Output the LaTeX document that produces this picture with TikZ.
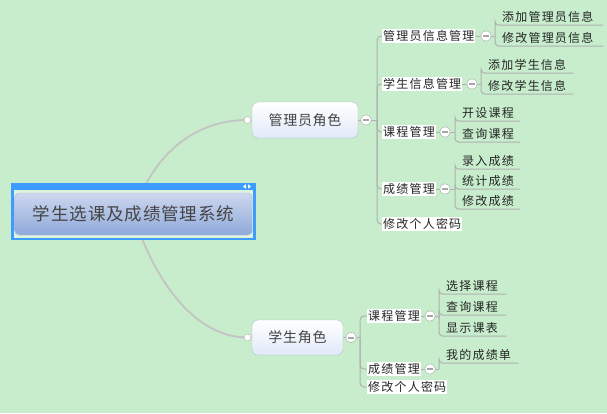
\documentclass[tikz,border=0pt]{standalone}
\usepackage{fontspec}
\newfontfamily\cjk[LetterSpace=10]{Noto Sans CJK SC}
\newfontfamily\cjkb[LetterSpace=5]{Noto Sans CJK SC}
\usetikzlibrary{positioning}
\definecolor{bgc}{HTML}{C7EDCC}
\definecolor{selblue}{HTML}{3D9DFF}
\definecolor{selgap}{HTML}{DDF3DF}
\definecolor{roottop}{HTML}{CDD7EF}
\definecolor{rootbot}{HTML}{8FA9DA}
\definecolor{rootbd}{HTML}{A9B8D5}
\definecolor{rolebot}{HTML}{E1E9F8}
\definecolor{rolebd}{HTML}{B5BFCC}
\definecolor{txtgray}{HTML}{454545}
\definecolor{curvegray}{HTML}{C4C4C4}
\definecolor{linegray}{HTML}{B0B0B0}
\pgfdeclarelayer{bglayer}
\pgfdeclarelayer{edges}
\pgfsetlayers{bglayer,edges,main}
\tikzset{
  rootbox/.style={draw=rootbd, rounded corners=5pt, top color=roottop, bottom color=rootbot,
    minimum width=238pt, minimum height=42pt, inner sep=0pt, text=txtgray,
    font=\cjkb\fontsize{17.5pt}{19pt}\selectfont},
  role/.style={draw=rolebd, rounded corners=6pt, top color=white, bottom color=rolebot,
    minimum height=36pt, inner sep=0pt, text=txtgray,
    font=\cjkb\fontsize{14pt}{16pt}\selectfont},
  dot/.style={circle, draw=gray!60, fill=white, minimum size=7pt, inner sep=0pt},
  minus/.style={circle, draw=gray!70, fill=white, minimum size=10.5pt, inner sep=0pt,
    path picture={\draw[line width=2pt] ([xshift=2.5pt]path picture bounding box.west) -- ([xshift=-2.5pt]path picture bounding box.east);}},
  sub/.style={fill=white, inner xsep=1pt, inner ysep=1pt, anchor=west, text=black!85,
    font=\cjk\fontsize{12pt}{14pt}\selectfont},
  leaf/.style={anchor=west, inner sep=0pt, minimum height=16pt, text width=#1, align=left,
    execute at begin node=\hspace*{7pt}, text=black!85,
    font=\cjk\fontsize{12pt}{14pt}\selectfont},
  conn/.style={draw=linegray, line width=1pt, rounded corners=4pt},
  curve/.style={draw=curvegray, line width=1.8pt}
}
\begin{document}
\begin{tikzpicture}[x=1pt,y=-1pt]
\useasboundingbox (0,0) rectangle (607,413);
\begin{pgfonlayer}{bglayer}
\fill[bgc] (0,0) rectangle (607,413);
\end{pgfonlayer}

% root with selection frame
\fill[selblue] (11,183) rectangle (256,240);
\fill[selgap] (14,190) rectangle (253,237.5);
\fill[white] (243,186.5) -- (246,184.3) -- (246,188.7) -- cycle;
\fill[white] (251,186.5) -- (248,184.3) -- (248,188.7) -- cycle;
\node[rootbox] (root) at (133.5,214) {学生选课及成绩管理系统};

% role nodes
\node[role, minimum width=106pt] (a) at (305,120) {管理员角色};
\node[dot] (ca) at (247.5,120) {};
\node[minus] (ma) at (366,120) {};
\coordinate (ta) at (377,120);

\node[role, minimum width=91pt, minimum height=35pt] (s) at (297.5,337.5) {学生角色};
\node[dot] (cs) at (247.5,337.5) {};
\node[minus] (ms) at (351,337.5) {};
\coordinate (ts) at (360,337.5);

% admin children
\node[sub] (c11) at (382,36) {管理员信息管理};
\node[minus] (m11) at (486,36) {};
\coordinate (v11) at (495,36);
\node[leaf=108pt] (l111) at (495,17) {添加管理员信息};
\node[leaf=108pt] (l112) at (495,38) {修改管理员信息};

\node[sub] (c12) at (382,84) {学生信息管理};
\node[minus] (m12) at (472,84) {};
\coordinate (v12) at (481,84);
\node[leaf=92pt] (l121) at (481,65) {添加学生信息};
\node[leaf=92pt] (l122) at (481,86) {修改学生信息};

\node[sub] (c13) at (382,132) {课程管理};
\node[minus] (m13) at (445,132) {};
\coordinate (v13) at (455,132);
\node[leaf=65pt] (l131) at (455,113) {开设课程};
\node[leaf=65pt] (l132) at (455,134) {查询课程};

\node[sub] (c14) at (382,189) {成绩管理};
\node[minus] (m14) at (445,189) {};
\coordinate (v14) at (455,189);
\node[leaf=65pt] (l141) at (455,161) {录入成绩};
\node[leaf=65pt] (l142) at (455,181) {统计成绩};
\node[leaf=65pt] (l143) at (455,201) {修改成绩};

\node[sub] (c15) at (382,224) {修改个人密码};

% student children
\node[sub] (c21) at (367,316) {课程管理};
\node[minus] (m21) at (430,316) {};
\coordinate (v21) at (439,316);
\node[leaf=67pt] (l211) at (439,286) {选择课程};
\node[leaf=67pt] (l212) at (439,307) {查询课程};
\node[leaf=67pt] (l213) at (439,328) {显示课表};

\node[sub] (c22) at (367,369) {成绩管理};
\node[minus] (m22) at (430,369) {};
\coordinate (v22) at (439,369);
\node[leaf=79pt] (l221) at (439,355) {我的成绩单};

\node[sub] (c23) at (367,387) {修改个人密码};

\begin{pgfonlayer}{edges}
\draw[curve] (root.center) .. controls (150,160) and (190,120) .. (ca.center);
\draw[curve] (root.center) .. controls (150,270) and (190,337.5) .. (cs.center);
\draw[curve, line width=1pt] (ca) -- (a);
\draw[curve, line width=1pt] (cs) -- (s);
\draw[conn] (a.east) -- (ma) -- (ta);
\draw[conn] (s.east) -- (ms) -- (ts);
\foreach \c in {c11,c12,c13,c14,c15} \draw[conn] (ta) |- (\c.west);
\foreach \c in {c21,c22,c23} \draw[conn] (ts) |- (\c.west);
\foreach \m/\v in {c11/m11,c12/m12,c13/m13,c14/m14,c21/m21,c22/m22} \draw[conn] (\m.east) -- (\v);
\foreach \m/\v in {m11/v11,m12/v12,m13/v13,m14/v14,m21/v21,m22/v22} \draw[conn] (\m) -- (\v);
\foreach \v/\l in {v11/l111,v11/l112,v12/l121,v12/l122,v13/l131,v13/l132,v14/l141,v14/l142,v14/l143,v21/l211,v21/l212,v21/l213,v22/l221}
  \draw[conn] (\v) |- (\l.south west) -- (\l.south east);
\end{pgfonlayer}
\end{tikzpicture}
\end{document}
